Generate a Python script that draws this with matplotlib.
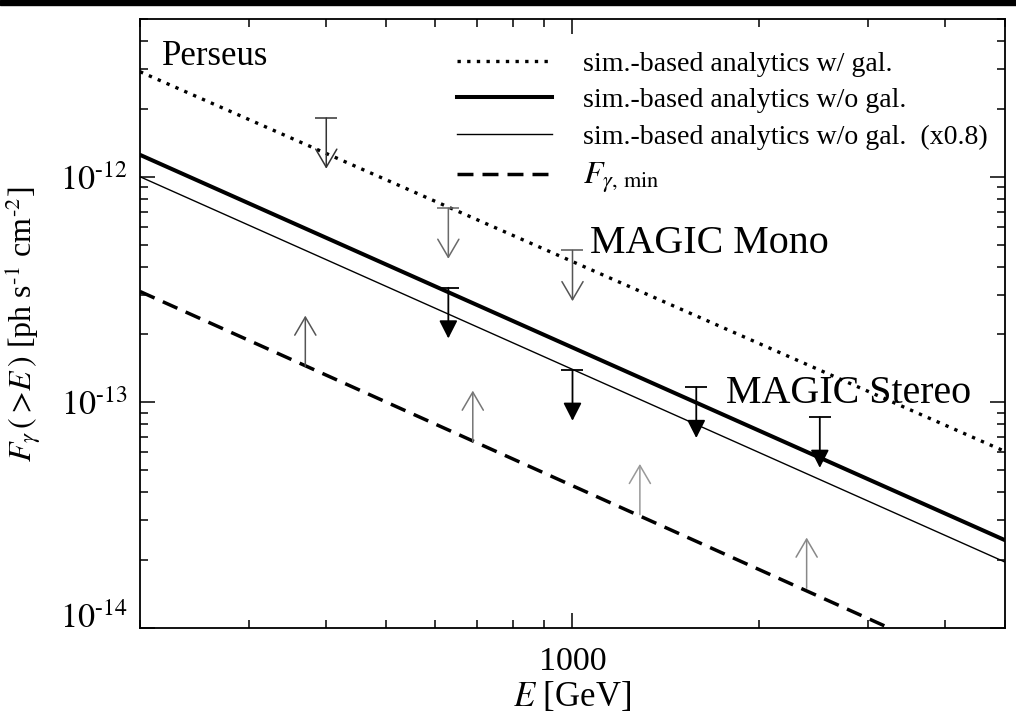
import matplotlib
matplotlib.use("Agg")
import matplotlib.pyplot as plt
from matplotlib.patches import Rectangle
from matplotlib.ticker import LogLocator, NullFormatter

plt.rcParams["font.family"] = ["Liberation Serif", "DejaVu Serif"]
plt.rcParams["mathtext.fontset"] = "stix"

# Model curves (power laws, straight in log-log) given by their end points
E_line = [200, 5000]
F_sim_gal = [2.92e-12, 6.06e-14]
F_sim_nogal = [1.25e-12, 2.45e-14]
nogal_scale = 0.8
E_min_line = [200, 3250]
F_min = [3.1e-13, 1.0e-14]

# MAGIC Mono upper limits
E_mono = [400, 630, 1000]
UL_mono = [1.82e-12, 7.26e-13, 4.71e-13]
mono_colors = ["#333333", "#6a6a6a", "#555555"]

# MAGIC Stereo upper limits
E_stereo = [630, 1000, 1585, 2510]
UL_stereo = [3.22e-13, 1.39e-13, 1.166e-13, 8.6e-14]

# Lower limits sitting on F_gamma,min
E_low = [370, 690, 1285, 2390]
LL_low = [1.445e-13, 6.72e-14, 3.18e-14, 1.50e-14]
low_colors = ["#555555", "#777777", "#999999", "#888888"]

fig = plt.figure(figsize=(10.16, 7.14), dpi=100)
ax = fig.add_axes([140 / 1016, 86 / 714, 865 / 1016, 609 / 714])
ax.set_xscale("log")
ax.set_yscale("log")
ax.set_xlim(200, 5000)
ax.set_ylim(1e-14, 5e-12)

dotted = (0, (1.0, 1.9))
dashed = (0, (4.6, 2.6))
ax.plot(E_line, F_sim_gal, color="black", lw=2.4, linestyle=dotted,
        dash_capstyle="butt", label="sim.-based analytics w/ gal.")
ax.plot(E_line, F_sim_nogal, color="black", lw=2.9,
        label="sim.-based analytics w/o gal.")
ax.plot(E_line, [nogal_scale * f for f in F_sim_nogal], color="black", lw=1.0,
        label="sim.-based analytics w/o gal.  (x0.8)")
ax.plot(E_min_line, F_min, color="black", lw=2.5, linestyle=dashed,
        dash_capstyle="butt", label=r"$F_{\gamma,\,\mathrm{min}}$")

arrow_pts = 36.5  # arrow length in points
cap_size = 16
open_head = "<-,head_length=0.65,head_width=0.38"
filled_head = "<|-,head_length=0.55,head_width=0.28"

def upper_limit(x, y, color, filled, lw):
    ax.annotate("", xy=(x, y), xycoords="data",
                xytext=(0, -arrow_pts), textcoords="offset points",
                arrowprops=dict(arrowstyle=filled_head if filled else open_head,
                                mutation_scale=20, color=color,
                                lw=lw, shrinkA=0, shrinkB=0), zorder=5)
    ax.plot([x], [y], marker="_", markersize=cap_size, mew=lw, color=color, zorder=5)

def lower_limit(x, y, color, lw):
    ax.annotate("", xy=(x, y), xycoords="data",
                xytext=(0, arrow_pts), textcoords="offset points",
                arrowprops=dict(arrowstyle=open_head, mutation_scale=20, color=color,
                                lw=lw, shrinkA=0, shrinkB=0), zorder=5)

for x, y, c in zip(E_mono, UL_mono, mono_colors):
    upper_limit(x, y, c, False, 1.1)
for x, y in zip(E_stereo, UL_stereo):
    upper_limit(x, y, "black", True, 1.3)
for x, y, c in zip(E_low, LL_low, low_colors):
    lower_limit(x, y, c, 1.1)

ax.text(0.0254, 0.9245, "Perseus", transform=ax.transAxes, fontsize=25,
        ha="left", va="baseline")
ax.text(0.520, 0.6158, "MAGIC Mono", transform=ax.transAxes, fontsize=28.8,
        ha="left", va="baseline")
ax.text(0.6775, 0.3695, "MAGIC Stereo", transform=ax.transAxes, fontsize=28.8,
        ha="left", va="baseline")

leg = ax.legend(loc="upper left", bbox_to_anchor=(0.3665, 0.9475), frameon=False,
                fontsize=20.1, handlelength=3.4, handletextpad=1.1,
                labelspacing=0.40, borderpad=0, borderaxespad=0)
leg.get_texts()[3].set_fontsize(23)

# Axes, ticks and labels
for s in ax.spines.values():
    s.set_linewidth(1.3)
ax.set_xticks([1000], ["1000"])
ax.xaxis.set_minor_locator(LogLocator(base=10, subs=range(2, 10)))
ax.xaxis.set_minor_formatter(NullFormatter())
ax.set_yticks([1e-14, 1e-13, 1e-12],
              [r"$10^{\text{-14}}$", r"$10^{\text{-13}}$", r"$10^{\text{-12}}$"])
ax.yaxis.set_minor_locator(LogLocator(base=10, subs=range(2, 10)))
ax.yaxis.set_minor_formatter(NullFormatter())
ax.tick_params(which="both", direction="in", top=True, right=True, width=1.1,
               labelsize=24.5)
ax.tick_params(which="major", length=11)
ax.tick_params(which="minor", length=6)
ax.tick_params(axis="y", which="major", pad=9)
ax.tick_params(axis="x", which="major", pad=13)
ax.yaxis.get_major_ticks()[0].label1.set_verticalalignment("baseline")

fig.text(572 / 1016, 1 - 697 / 714, r"$E$ [GeV]", fontsize=25, ha="center", va="center")
fig.text(23 / 1016, 1 - 324 / 714,
         r"$F_{\gamma}\,(>\!E\,)$ [ph s$^{\text{-1}}$ cm$^{\text{-2}}$]",
         fontsize=23, rotation=90, ha="center", va="center")

fig.patches.append(Rectangle((0, 1 - 5 / 714), 1, 5 / 714, transform=fig.transFigure,
                             color="black", zorder=10))

fig.savefig("out.png", dpi=100)
